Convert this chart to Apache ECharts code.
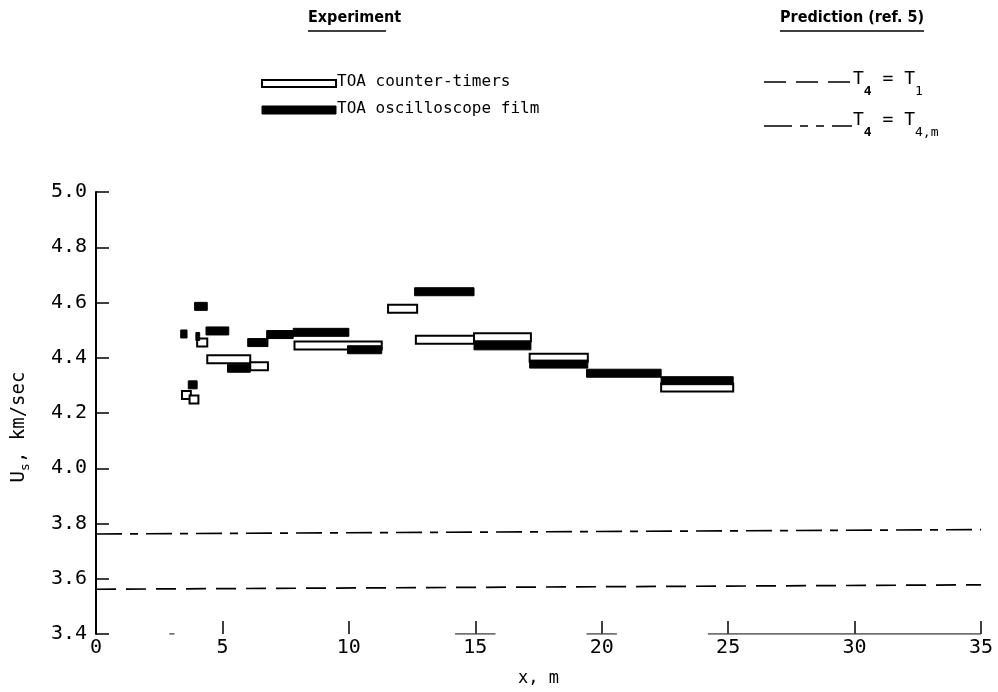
<!DOCTYPE html>
<html><head><meta charset="utf-8">
<script src="https://cdn.jsdelivr.net/npm/echarts@6/dist/echarts.min.js"></script>
<style>html,body{margin:0;padding:0;background:#fff}#c{width:998px;height:692px}</style>
</head><body><div id="c"></div>
<script>
// ---- data ----
// TOA counter-timers (open bars): interval start, interval end (m), shock speed (km/sec)
const counterStart = [3.40, 3.70, 4.00, 4.40, 6.10, 7.85, 11.55, 12.65, 14.95, 17.15, 22.35];
const counterEnd   = [3.75, 4.05, 4.40, 6.10, 6.80, 11.30, 12.70, 14.95, 17.20, 19.45, 25.20];
const counterUs    = [4.265, 4.249, 4.455, 4.395, 4.369, 4.444, 4.577, 4.465, 4.474, 4.400, 4.292];
// TOA oscilloscope film (filled bars)
const filmStart = [3.35, 3.65, 3.90, 3.95, 4.35, 5.20, 6.00, 6.75, 7.80, 9.95, 12.60, 14.95, 17.15, 19.40, 22.35];
const filmEnd   = [3.60, 4.00, 4.40, 4.10, 5.25, 6.10, 6.80, 7.80, 10.00, 11.30, 14.95, 17.20, 19.45, 22.35, 25.20];
const filmUs    = [4.486, 4.302, 4.586, 4.477, 4.497, 4.362, 4.455, 4.484, 4.492, 4.429, 4.639, 4.443, 4.377, 4.344, 4.317];
// Predictions (ref. 5)
const predX     = [0, 35];
const predT1    = [3.562, 3.578];   // T4 = T1
const predT4m   = [3.762, 3.778];   // T4 = T4,m
// axis ticks
const xTickLabels = ['0', '5', '10', '15', '20', '25', '30', '35'];
const yTickLabels = ['3.4', '3.6', '3.8', '4.0', '4.2', '4.4', '4.6', '4.8', '5.0'];
// visible pieces of the (scanned) x-axis base line
const baseStart = [0.1, 2.9, 14.2, 19.4, 24.2];
const baseEnd   = [0.4, 3.1, 15.8, 20.6, 35.0];

// ---- chart ----
const MONO = '"DejaVu Sans Mono", "Liberation Mono", monospace';
const COND = '"DejaVu Sans Condensed", "DejaVu Sans", sans-serif';
const BAR_H = 8;

function barItem(filled) {
  return function (params, api) {
    const p0 = api.coord([api.value(0), api.value(2)]);
    const p1 = api.coord([api.value(1), api.value(2)]);
    return {
      type: 'rect',
      shape: { x: p0[0], y: p0[1] - BAR_H / 2, width: p1[0] - p0[0], height: BAR_H },
      style: { fill: filled ? '#000' : '#fff', stroke: '#000', lineWidth: filled ? 1 : 2 }
    };
  };
}

const counterData = counterStart.map((s, i) => [s, counterEnd[i], counterUs[i]]);
const filmData = filmStart.map((s, i) => [s, filmEnd[i], filmUs[i]]);
const baseData = [];
baseStart.forEach((s, i) => { baseData.push([s, 3.4], [baseEnd[i], 3.4], [null, null]); });

const chart = echarts.init(document.getElementById('c'), null, { renderer: 'canvas' });

const supRich = {
  m: { fontFamily: MONO, fontSize: 18, color: '#000', lineHeight: 28, verticalAlign: 'top' },
  b: { fontFamily: MONO, fontSize: 13, color: '#000', fontWeight: 'bold', lineHeight: 28, verticalAlign: 'bottom' },
  s: { fontFamily: MONO, fontSize: 13, color: '#000', lineHeight: 28, verticalAlign: 'bottom' }
};

chart.setOption({
  animation: false,
  backgroundColor: '#fff',
  grid: { left: 96, right: 17, top: 192, bottom: 56, containLabel: false },
  xAxis: {
    type: 'value', min: 0, max: 35, interval: 5,
    name: 'x, m', nameLocation: 'middle', nameGap: 36,
    nameTextStyle: { fontFamily: MONO, fontSize: 17, color: '#000' },
    axisLine: { show: false },
    axisTick: { show: true, inside: true, length: 13, lineStyle: { color: '#000', width: 1.5 } },
    axisLabel: { color: '#000', fontFamily: MONO, fontSize: 20, margin: 4,
      formatter: (v) => xTickLabels[Math.round(v / 5)] },
    splitLine: { show: false }
  },
  yAxis: {
    type: 'value', min: 3.4, max: 5.0, interval: 0.2,
    axisLine: { show: true, lineStyle: { color: '#000', width: 2 } },
    axisTick: { show: true, inside: true, length: 13, lineStyle: { color: '#000', width: 1.5 } },
    axisLabel: { color: '#000', fontFamily: MONO, fontSize: 20, margin: 9,
      formatter: (v) => yTickLabels[Math.round((v - 3.4) / 0.2)] },
    splitLine: { show: false }
  },
  series: [
    { type: 'line', data: baseData, symbol: 'none', silent: true, connectNulls: false,
      lineStyle: { color: '#444', width: 1.5 } },
    { type: 'line', data: predX.map((x, i) => [x, predT1[i]]), symbol: 'none', silent: true,
      lineStyle: { color: '#000', width: 1.7, type: [20, 10] } },
    { type: 'line', data: predX.map((x, i) => [x, predT4m[i]]), symbol: 'none', silent: true,
      lineStyle: { color: '#000', width: 1.7, type: [26, 8, 8, 8] } },
    { type: 'custom', name: 'TOA counter-timers', renderItem: barItem(false), data: counterData,
      encode: { x: [0, 1], y: 2 }, z: 3 },
    { type: 'custom', name: 'TOA oscilloscope film', renderItem: barItem(true), data: filmData,
      encode: { x: [0, 1], y: 2 }, z: 4 }
  ],
  graphic: [
    // y-axis title
    { type: 'text', x: 19, y: 427, rotation: Math.PI / 2,
      style: { text: 'U{s|s}, km/sec', align: 'center', verticalAlign: 'middle',
        font: '19px ' + MONO, fill: '#000',
        rich: { s: { fontFamily: MONO, fontSize: 13, fill: '#000', verticalAlign: 'bottom', lineHeight: 26 } } } },
    { type: 'text', left: 308, top: 10,
      style: { text: 'Experiment', font: 'bold 16px ' + COND, fill: '#000' } },
    { type: 'line', shape: { x1: 308, y1: 31, x2: 386, y2: 31 }, style: { stroke: '#000', lineWidth: 1.5 } },
    { type: 'text', left: 780, top: 10,
      style: { text: 'Prediction (ref. 5)', font: 'bold 16px ' + COND, fill: '#000' } },
    { type: 'line', shape: { x1: 780, y1: 31, x2: 924, y2: 31 }, style: { stroke: '#000', lineWidth: 1.5 } },
    // experiment legend
    { type: 'rect', shape: { x: 262, y: 80, width: 74, height: 7 }, style: { fill: '#fff', stroke: '#000', lineWidth: 2 } },
    { type: 'text', left: 337, top: 74, style: { text: 'TOA counter-timers', font: '16px ' + MONO, fill: '#000' } },
    { type: 'rect', shape: { x: 262, y: 106, width: 74, height: 8 }, style: { fill: '#000', stroke: '#000', lineWidth: 1 } },
    { type: 'text', left: 337, top: 101, style: { text: 'TOA oscilloscope film', font: '16px ' + MONO, fill: '#000' } },
    // prediction legend
    { type: 'line', shape: { x1: 764, y1: 82, x2: 852, y2: 82 },
      style: { stroke: '#000', lineWidth: 1.5, lineDash: [22, 10] } },
    { type: 'text', left: 853, top: 70,
      style: { text: '{m|T}{b|4}{m| = T}{s|1}', rich: supRich } },
    { type: 'line', shape: { x1: 764, y1: 126, x2: 852, y2: 126 },
      style: { stroke: '#000', lineWidth: 1.5, lineDash: [28, 8, 8, 8, 8, 8] } },
    { type: 'text', left: 853, top: 111,
      style: { text: '{m|T}{b|4}{m| = T}{s|4,m}', rich: supRich } }
  ]
});
</script>
</body></html>
